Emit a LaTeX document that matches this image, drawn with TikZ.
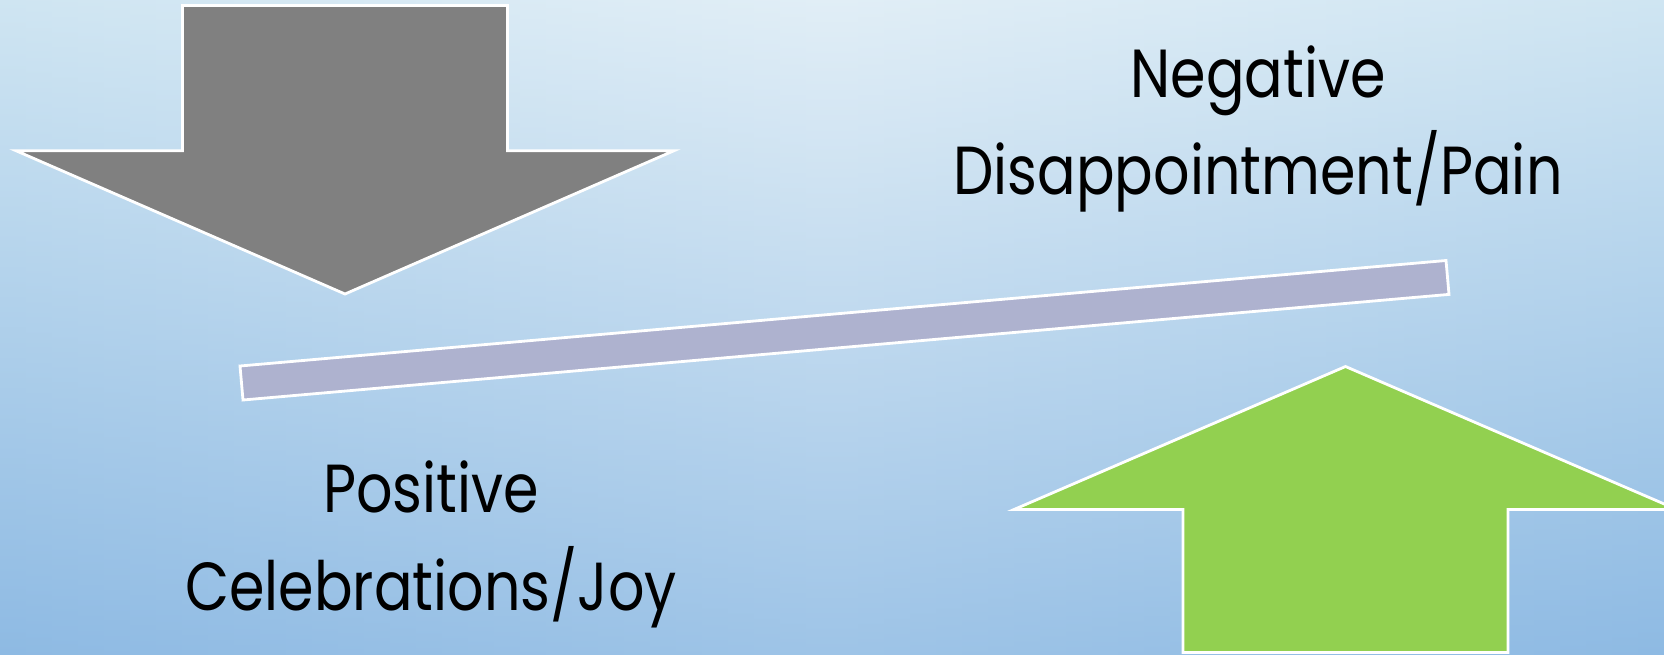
\documentclass[tikz,border=0pt]{standalone}
\usepackage{fontspec}
\setmainfont{Poppins}[FakeStretch=0.84]
\usepackage{xcolor}
\usepackage{tikz}
\usetikzlibrary{positioning}
\definecolor{bgtopmid}{RGB}{225,238,246}
\definecolor{bgtopedge}{RGB}{207,229,242}
\definecolor{bgbotmid}{RGB}{158,196,231}
\definecolor{bgbotedge}{RGB}{142,186,227}
\definecolor{arrgray}{RGB}{128,128,128}
\definecolor{arrgreen}{RGB}{146,208,80}
\definecolor{beamlav}{RGB}{174,178,207}
\tikzset{
  outl/.style={draw=white,line width=1.4pt,line join=miter},
  downarr/.style={outl,fill=arrgray},
  uparr/.style={outl,fill=arrgreen},
  beam/.style={outl,fill=beamlav},
  lbl/.style={font=\fontsize{34}{40}\selectfont,text=black,inner sep=0pt},
}

\begin{document}
\begin{tikzpicture}[x=0.5pt,y=-0.5pt]

%% ---------- background ----------
\useasboundingbox (0,0) rectangle (1664,654);
\clip (0,0) rectangle (1664,654);
\foreach \i in {0,...,63}{
  \pgfmathsetmacro{\p}{100-100*abs(\i-31.5)/31.5}
  \shade[top color=bgtopmid!\p!bgtopedge,bottom color=bgbotmid!\p!bgbotedge]
    (\i*26,0) rectangle (\i*26+27,654);
}

%% ---------- arrows ----------
\draw[downarr] (182.5,5.5) -- (507.5,5.5) -- (507.5,150.7) -- (674,150.7)
  -- (345,294) -- (16,150.7) -- (182.5,150.7) -- cycle;
\draw[uparr] (1183,652.5) -- (1508,652.5) -- (1508,509.5) -- (1677,509.5)
  -- (1345.5,366.5) -- (1014,509.5) -- (1183,509.5) -- cycle;

%% ---------- tilted beam ----------
\draw[beam] (240,366) -- (1446,260.5) -- (1449,294.4) -- (243,400) -- cycle;

%% ---------- labels ----------
\node[lbl,anchor=base] (neg)  at (1258,97.6) {Negative};
\node[lbl,anchor=base] (pain) at (1258,194) {Disappointment/Pain};
\node[lbl,anchor=base] (pos)  at (431,512.6) {Positive};
\node[lbl,anchor=base] (joy)  at (431,610) {Celebrations/Joy};
\end{tikzpicture}
\end{document}
